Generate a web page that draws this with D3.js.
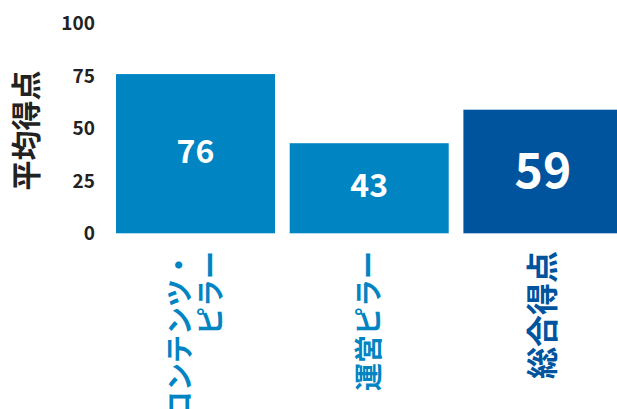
<!DOCTYPE html>
<html>
<head>
<meta charset="utf-8">
<script src="https://cdn.jsdelivr.net/npm/d3@7"></script>
<style>
  html, body { margin: 0; padding: 0; background: #fff; }
  svg { display: block; font-family: "Noto Sans CJK JP", "Noto Sans", sans-serif; }
</style>
</head>
<body>
<svg id="chart" width="617" height="409"></svg>
<script>
// Pillar scores
const categories = ["コンテンツ・ピラー", "運営ピラー", "総合得点"];
const labelLines = [["コンテンツ・", "ピラー"], ["運営ピラー"], ["総合得点"]];
const scores = [76, 43, 59];
const highlight = [false, false, true];
const yTicks = [0, 25, 50, 75, 100];
const yTitle = "平均得点";

const lightBlue = "#0084c2";
const darkBlue = "#00549e";

const svg = d3.select("#chart");

const x = d3.scaleBand()
  .domain(categories)
  .range([116, 622.4])
  .paddingInner(0.0846)
  .paddingOuter(0);

const y = d3.scaleLinear()
  .domain([0, 100])
  .range([233.3, 23.8]);

// Y axis: tick labels only
const yAxis = d3.axisLeft(y).tickValues(yTicks).tickSize(0).tickPadding(0);
const gy = svg.append("g").attr("transform", "translate(95,0)").call(yAxis);
gy.select(".domain").remove();
gy.selectAll("text")
  .attr("font-family", "'Noto Sans CJK JP', sans-serif")
  .attr("font-size", 19)
  .attr("font-weight", 700)
  .attr("fill", "#222");

// Y axis title
svg.append("text")
  .attr("transform", `translate(24,${(y(0) + y(100)) / 2 + 2}) rotate(-90)`)
  .attr("text-anchor", "middle")
  .attr("dominant-baseline", "central")
  .attr("font-size", 30)
  .attr("font-weight", 700)
  .attr("fill", "#222")
  .text(yTitle);

// Bars
const data = categories.map((c, i) => ({ c, v: scores[i], hl: highlight[i], lines: labelLines[i] }));

svg.append("g").selectAll("rect")
  .data(data)
  .join("rect")
  .attr("x", d => x(d.c))
  .attr("y", d => y(d.v))
  .attr("width", x.bandwidth())
  .attr("height", d => y(0) - y(d.v))
  .attr("fill", d => d.hl ? darkBlue : lightBlue);

// Value labels inside bars
svg.append("g").selectAll("text")
  .data(data)
  .join("text")
  .attr("x", d => x(d.c) + x.bandwidth() / 2)
  .attr("y", d => (y(d.v) + y(0)) / 2)
  .attr("dy", d => d.hl ? "0.34em" : "0.28em")
  .attr("text-anchor", "middle")
  .attr("font-size", d => d.hl ? 48 : 32)
  .attr("font-weight", 700)
  .attr("fill", "#fff")
  .text(d => d.v);

// Category labels, rotated and reading upward from the baseline
const catG = svg.append("g").selectAll("g")
  .data(data)
  .join("g")
  .attr("transform", d => `translate(${x(d.c) + x.bandwidth() / 2},251) rotate(-90)`);

catG.each(function (d) {
  const g = d3.select(this);
  const fs = d.hl ? 32 : 28;
  const n = d.lines.length;
  const lh = 31;
  d.lines.forEach((line, j) => {
    g.append("text")
      .attr("x", 0)
      .attr("y", (j - (n - 1) / 2) * lh)
      .attr("dy", "0.36em")
      .attr("text-anchor", "end")
      .attr("font-size", fs)
      .attr("font-weight", 700)
      .attr("fill", d.hl ? darkBlue : lightBlue)
      .text(line);
  });
});
</script>
</body>
</html>
